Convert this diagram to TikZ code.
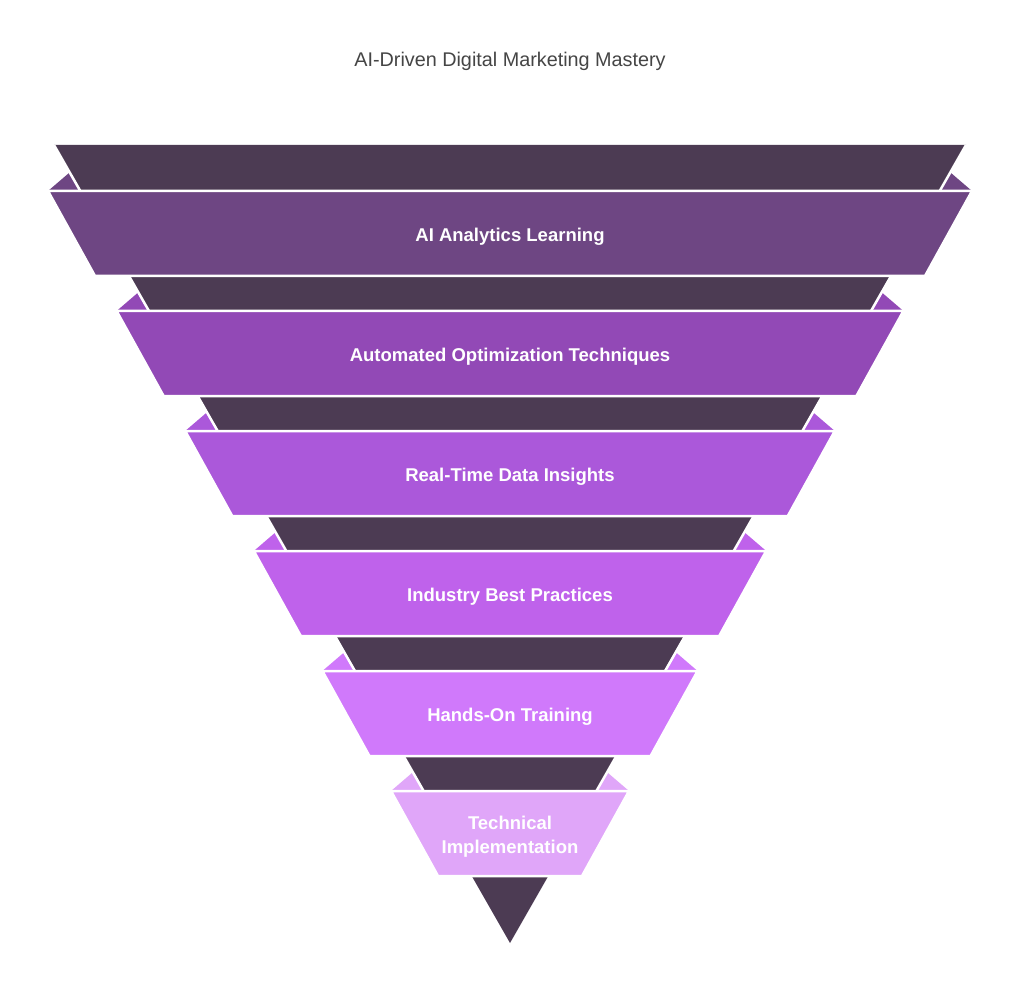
\documentclass[tikz,border=0pt]{standalone}
\usepackage{fontspec}
\setmainfont{Liberation Sans}
\definecolor{darkc}{HTML}{4C3B53}
\definecolor{bandA}{HTML}{6E4683}
\definecolor{bandB}{HTML}{9249B6}
\definecolor{bandC}{HTML}{AB58DA}
\definecolor{bandD}{HTML}{BF62EB}
\definecolor{bandE}{HTML}{D079FB}
\definecolor{bandF}{HTML}{E0A6F9}
\definecolor{titlec}{HTML}{454545}
\tikzset{
  bandlabel/.style={text=white,font=\fontsize{18.5}{24}\selectfont\bfseries,align=center,inner sep=0pt},
  titlelabel/.style={text=titlec,font=\fontsize{19.8}{22}\selectfont,inner sep=0pt},
  bandshape/.style={draw=white,line width=2.5pt,line join=miter},
  darkshape/.style={fill=darkc},
  earline/.style={draw=white,line width=2.5pt,line cap=butt},
}
\begin{document}
\begin{tikzpicture}[x=1pt,y=-1pt]
\useasboundingbox (0,0) rectangle (1020,1008);
\fill[white] (0,0) rectangle (1020,1008);
\node[titlelabel,anchor=base] (title) at (510,67) {AI-Driven Digital Marketing Mastery};
% ears
\foreach \i/\c in {0/bandA,1/bandB,2/bandC,3/bandD,4/bandE,5/bandF}{
  \pgfmathsetmacro{\T}{191+120*\i}
  \pgfmathsetmacro{\W}{462-68.6*\i}
  \fill[\c] ({510-\W},\T) -- ({510-\W+33-0.572*19},{\T-19}) -- ({510-\W+40},\T) -- cycle;
  \fill[\c] ({510+\W},\T) -- ({510+\W-33+0.572*19},{\T-19}) -- ({510+\W-40},\T) -- cycle;
}
% dark triangle
\path[darkshape] (54,145) -- (966,145) -- (510,943) -- cycle;
% white separators between ears and dark triangle
\foreach \i in {0,...,5}{
  \pgfmathsetmacro{\T}{191+120*\i}
  \pgfmathsetmacro{\D}{0.57215*(942-\T)}
  \pgfmathsetmacro{\U}{(\i==0 ? 46 : 37)}
  \path[earline] ({510-\D-0.57215*\U},{\T-\U}) -- ({510-\D},\T);
  \path[earline] ({510+\D+0.57215*\U},{\T-\U}) -- ({510+\D},\T);
}
% bands
\foreach \i/\c in {0/bandA,1/bandB,2/bandC,3/bandD,4/bandE,5/bandF}{
  \pgfmathsetmacro{\T}{191+120*\i}
  \pgfmathsetmacro{\W}{462-68.6*\i}
  \path[bandshape,fill=\c] ({510-\W},\T) -- ({510+\W},\T) -- ({510+\W-47},{\T+85}) -- ({510-\W+47},{\T+85}) -- cycle;
}
\node[bandlabel,anchor=base] (l1) at (510,241.5) {AI Analytics Learning};
\node[bandlabel,anchor=base] (l2) at (510,361.5) {Automated Optimization Techniques};
\node[bandlabel,anchor=base] (l3) at (510,481.5) {Real-Time Data Insights};
\node[bandlabel,anchor=base] (l4) at (510,601.5) {Industry Best Practices};
\node[bandlabel,anchor=base] (l5) at (510,721.5) {Hands-On Training};
\node[bandlabel,anchor=base] (l6a) at (510,829) {Technical};
\node[bandlabel,anchor=base] (l6b) at (510,853) {Implementation};
\end{tikzpicture}
\end{document}
